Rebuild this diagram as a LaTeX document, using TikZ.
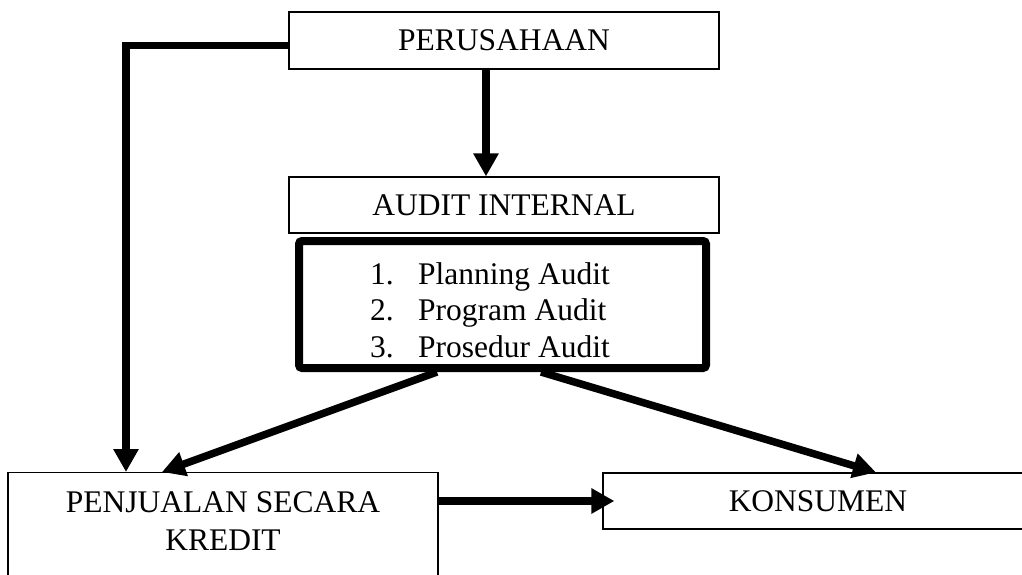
\documentclass[tikz,border=0pt]{standalone}
\usepackage{fontspec}
\setmainfont{Liberation Serif}
\usetikzlibrary{arrows.meta}
\begin{document}
\begin{tikzpicture}[x=1pt,y=-1pt,
  box/.style={draw, line width=1.2pt, minimum width=430pt, inner sep=0pt},
  lbl/.style={font=\fontsize{31.5}{36}\selectfont},
  flow/.style={line width=7.5pt, -{Triangle[length=23pt,width=24pt]}},
]
\useasboundingbox (0,0) rectangle (1022,575);
\clip (0,0) rectangle (1022,575);

% boxes
\node[box, lbl, minimum height=57pt] (per) at (504,40.5) {PERUSAHAAN};
\node[box, lbl, minimum height=56pt] (audit) at (504,205) {AUDIT INTERNAL};
\node[draw, line width=8pt, rounded corners=3pt, minimum width=407pt,
      minimum height=127pt, inner sep=0pt] (steps) at (502.5,304.5) {};
\node[lbl, anchor=base west, inner sep=0pt] (s1) at (370,284) {\makebox[48pt][l]{1.}Planning Audit};
\node[lbl, anchor=base west, inner sep=0pt] (s2) at (370,320) {\makebox[48pt][l]{2.}Program Audit};
\node[lbl, anchor=base west, inner sep=0pt] (s3) at (370,357) {\makebox[48pt][l]{3.}Prosedur Audit};

\node[box, minimum height=130pt, anchor=north] (penj) at (223,472) {};
\node[lbl, anchor=base, inner sep=0pt] (penj1) at (223,512) {PENJUALAN SECARA};
\node[lbl, anchor=base, inner sep=0pt] (penj2) at (223,550) {KREDIT};

\node[box, lbl, minimum height=56pt] (kon) at (818,501) {KONSUMEN};

% connectors
\draw[flow] ([yshift=-5pt]per.west) -| ([xshift=-97pt]penj.north);
\draw[flow] ([xshift=-18pt]per.south) -- ([xshift=-18pt]audit.north);
\draw[flow] ([xshift=-65.5pt]steps.south) -- ([xshift=-61pt]penj.north);
\draw[flow] ([xshift=38.5pt]steps.south) -- ([xshift=58pt]kon.north);
\draw[flow] (penj.east |- kon.west) -- ([xshift=12pt]kon.west);
\end{tikzpicture}
\end{document}
